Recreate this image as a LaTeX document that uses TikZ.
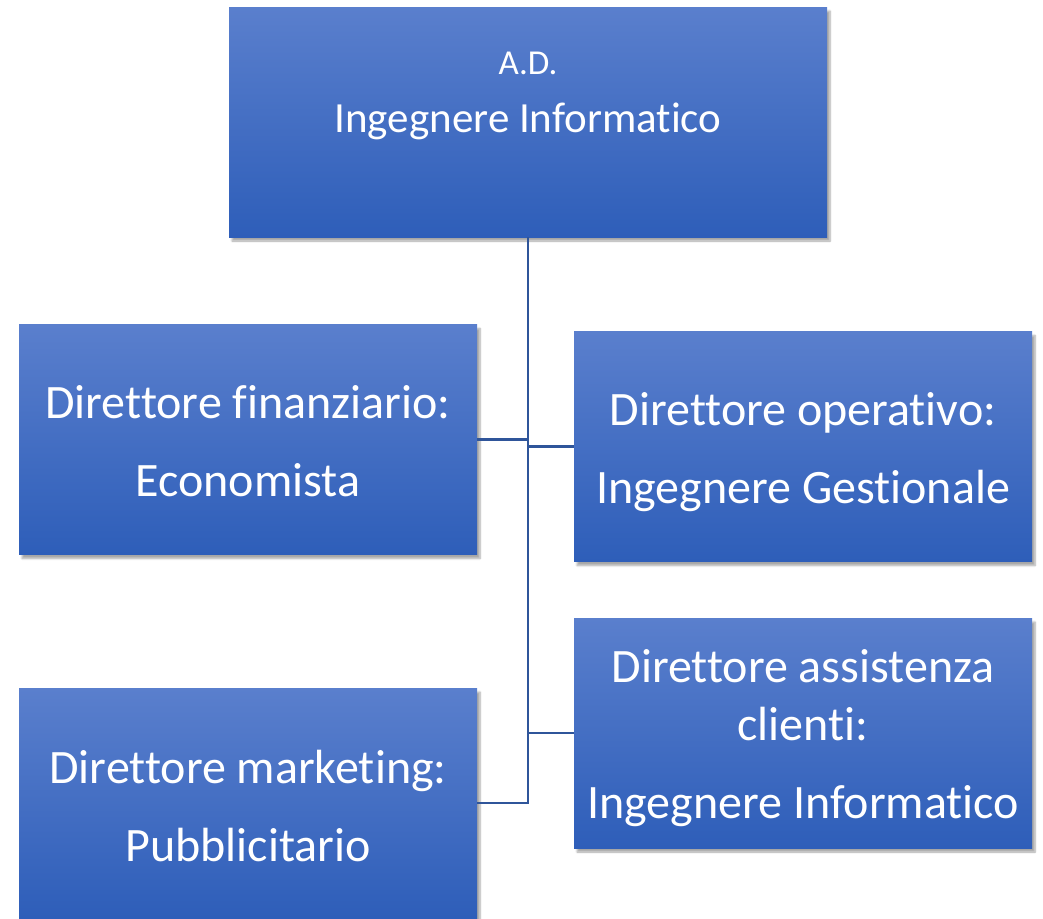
\documentclass[tikz,border=0pt]{standalone}
\usepackage{fontspec}
\setmainfont{Carlito}[Ligatures={NoCommon}]
\usetikzlibrary{shadows.blur}
\definecolor{boxtop}{HTML}{5A7FCD}
\definecolor{boxbot}{HTML}{2E5EB9}
\definecolor{linec}{HTML}{2F559A}
\newcommand\tdown[1]{\rule{0pt}{\dimexpr\fontcharht\font`l+#1*2\relax}}
\begin{document}
\begin{tikzpicture}[x=1pt,y=-1pt,
  orgbox/.style={rectangle, top color=boxtop, bottom color=boxbot, draw=none,
    inner sep=0pt, minimum width=458pt, minimum height=230pt, text=white, align=center,
    blur shadow={shadow xshift=3pt, shadow yshift=-4pt, shadow blur steps=6, shadow opacity=35},
    font=\fontsize{48}{78}\selectfont},
  lbl/.style={text=white, align=center, inner sep=0pt},
  conn/.style={draw=linec, line width=2.5pt, line join=miter}]
\useasboundingbox (0,0) rectangle (1043,918);
% boxes
\node[orgbox, minimum width=598pt] (ad) at (528,122) {};
\node[lbl, font=\fontsize{43}{58}\selectfont] (adtext) at (528,96) {{\fontsize{35}{58}\selectfont A.D.}\\Ingegnere Informatico};
\node[orgbox] (l1) at (248,439.5) {\tdown{2pt}Direttore finanziario:\\Economista};
\node[orgbox] (r1) at (803,446.5) {\tdown{5pt}Direttore operativo:\\Ingegnere Gestionale};
\node[orgbox, font=\fontsize{48}{58}\selectfont] (r2) at (803,733) {\tdown{5pt}Direttore assistenza\\clienti:\\[20pt]Ingegnere Informatico};
\node[orgbox] (l2) at (248,803) {\tdown{3pt}Direttore marketing:\\Pubblicitario};
% connectors
\draw[conn] (ad.south) -- (ad.south |- l2.east) -- (l2.east);
\draw[conn] (ad.south |- l1.east) -- (l1.east);
\draw[conn] (ad.south |- r1.west) -- (r1.west);
\draw[conn] (ad.south |- r2.west) -- (r2.west);
\end{tikzpicture}
\end{document}
